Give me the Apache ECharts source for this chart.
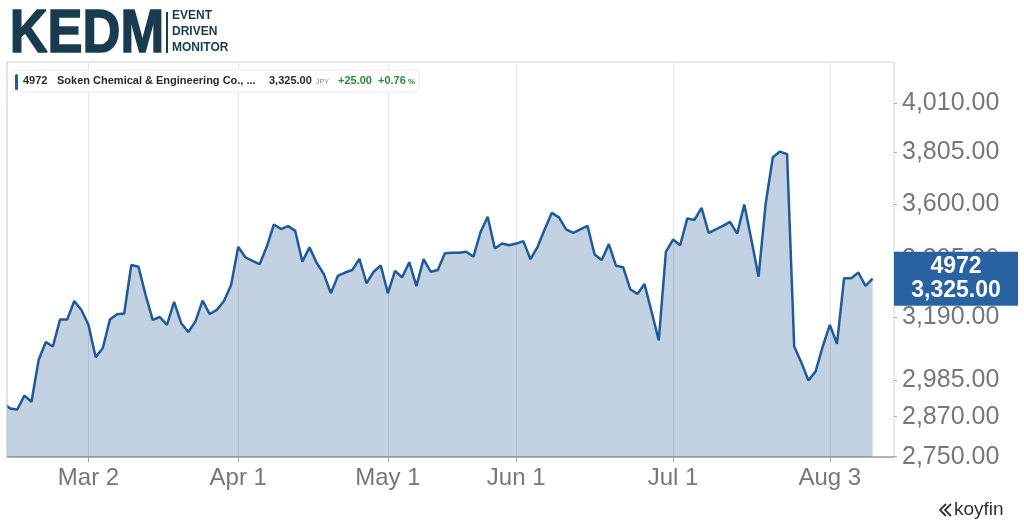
<!DOCTYPE html>
<html>
<head>
<meta charset="utf-8">
<script src="https://cdn.jsdelivr.net/npm/echarts@6/dist/echarts.min.js"></script>
<style>
html,body{margin:0;padding:0;background:#fff;}
#chart{width:1024px;height:529px;}
</style>
</head>
<body>
<div id="chart"></div>
<script>
const DATES = [
'2020-02-12','2020-02-13','2020-02-14','2020-02-17','2020-02-18','2020-02-19','2020-02-20','2020-02-21','2020-02-25','2020-02-26','2020-02-27','2020-02-28',
'2020-03-02','2020-03-03','2020-03-04','2020-03-05','2020-03-06','2020-03-09','2020-03-10','2020-03-11','2020-03-12','2020-03-13','2020-03-16','2020-03-17','2020-03-18','2020-03-19','2020-03-23','2020-03-24','2020-03-25','2020-03-26','2020-03-27','2020-03-30','2020-03-31',
'2020-04-01','2020-04-02','2020-04-03','2020-04-06','2020-04-07','2020-04-08','2020-04-09','2020-04-10','2020-04-13','2020-04-14','2020-04-15','2020-04-16','2020-04-17','2020-04-20','2020-04-21','2020-04-22','2020-04-23','2020-04-24','2020-04-27','2020-04-28','2020-04-30',
'2020-05-01','2020-05-07','2020-05-08','2020-05-11','2020-05-12','2020-05-13','2020-05-14','2020-05-15','2020-05-18','2020-05-19','2020-05-20','2020-05-21','2020-05-22','2020-05-25','2020-05-26','2020-05-27','2020-05-28','2020-05-29',
'2020-06-01','2020-06-02','2020-06-03','2020-06-04','2020-06-05','2020-06-08','2020-06-09','2020-06-10','2020-06-11','2020-06-12','2020-06-15','2020-06-16','2020-06-17','2020-06-18','2020-06-19','2020-06-22','2020-06-23','2020-06-24','2020-06-25','2020-06-26','2020-06-29','2020-06-30',
'2020-07-01','2020-07-02','2020-07-03','2020-07-06','2020-07-07','2020-07-08','2020-07-09','2020-07-10','2020-07-13','2020-07-14','2020-07-15','2020-07-16','2020-07-17','2020-07-20','2020-07-21','2020-07-22','2020-07-23','2020-07-27','2020-07-28','2020-07-29','2020-07-30','2020-07-31',
'2020-08-03','2020-08-04','2020-08-05','2020-08-06','2020-08-07','2020-08-11','2020-08-12'
];
const PRICES = [
2912,2895,2892,2935,2916,3049,3108,3093,3183,3183,3247,3216,
3165,3058,3088,3183,3201,3204,3374,3368,3268,3182,3192,3165,3244,3171,3141,3177,3248,3202,3216,3247,3303,
3440,3402,3389,3377,3440,3523,3506,3517,3499,3386,3438,3382,3342,3274,3336,3347,3356,3396,3309,3350,3372,
3274,3353,3330,3384,3299,3395,3350,3356,3417,3418,3418,3422,3404,3495,3552,3434,3452,3446,
3452,3461,3395,3440,3505,3567,3550,3505,3492,3505,3518,3412,3392,3450,3371,3366,3288,3271,3306,3209,3113,3422,
3467,3446,3546,3540,3586,3492,3505,3518,3533,3489,3599,3465,3332,3603,3785,3808,3798,3093,3041,2983,3012,3093,
3165,3102,3327,3327,3347,3300,3325
];
const PAD_SLOTS = ['', '', ''];
const X_TICKS = ['2020-03-02','2020-04-01','2020-05-01','2020-06-01','2020-07-01','2020-08-03'];
const Y_TICKS = [2750, 2870, 2985, 3190, 3395, 3600, 3805, 4010];
const LAST = 3325;
const TICKER = '4972';
const NAME = 'Soken Chemical & Engineering Co., ...';
const CHANGE = '+25.00';
const CHANGE_PCT = '+0.76';

const MONTHS = ['Jan','Feb','Mar','Apr','May','Jun','Jul','Aug','Sep','Oct','Nov','Dec'];
const FONT = '"Liberation Sans", Arial, sans-serif';
const isTick = (i, v) => X_TICKS.indexOf(v) >= 0;
const fmtDate = v => { if (!v) return ''; const p = v.split('-'); return MONTHS[+p[1]-1] + ' ' + (+p[2]); };
const fmtNum = v => Number(v).toLocaleString('en-US', {minimumFractionDigits: 2, maximumFractionDigits: 2});

const chart = echarts.init(document.getElementById('chart'), null, {renderer: 'canvas'});
const navy = '#183b50';
const Z = 100;
chart.setOption({
  animation: false,
  grid: {left: 3, right: 130, top: 62, bottom: 72, show: true, borderColor: '#d2d2d2', borderWidth: 1, backgroundColor: 'transparent'},
  xAxis: {
    type: 'category', boundaryGap: false, data: DATES.concat(PAD_SLOTS),
    axisLine: {lineStyle: {color: '#a3a3a3', width: 1.5}},
    axisTick: {interval: isTick, length: 5, lineStyle: {color: '#a3a3a3'}},
    axisLabel: {interval: isTick, formatter: fmtDate, color: '#777', fontSize: 24, fontFamily: FONT, margin: 9},
    splitLine: {show: true, interval: isTick, lineStyle: {color: '#e6e6e6', width: 1}}
  },
  yAxis: {
    type: 'log', logBase: 10, position: 'right', min: 2749, max: 4190,
    axisLine: {show: false},
    axisTick: {show: true, customValues: Y_TICKS, length: 3, lineStyle: {color: '#aaa'}},
    axisLabel: {customValues: Y_TICKS, formatter: v => fmtNum(Math.round(v)), color: '#777', fontSize: 25, fontFamily: FONT, margin: 8},
    splitLine: {show: false}
  },
  series: [{
    type: 'line', data: PRICES, showSymbol: false, symbol: 'none',
    lineStyle: {color: '#1f5a99', width: 2.5},
    areaStyle: {color: '#1f5a99', opacity: 0.27},
    markLine: {
      silent: true, symbol: 'none', animation: false,
      lineStyle: {color: 'rgba(0,0,0,0)', width: 1, type: 'solid'},
      data: [{yAxis: LAST}],
      label: {
        show: true, position: 'end', distance: 0, opacity: 1,
        formatter: '{a|' + TICKER + '}\n{a|' + fmtNum(LAST) + '}',
        backgroundColor: '#2862a0', padding: [3, 17, 3, 17],
        rich: {a: {color: '#fff', fontSize: 23, fontWeight: 'bold', fontFamily: FONT, lineHeight: 24, width: 90, align: 'center'}}
      }
    }
  }],
  graphic: [
    {type: 'rect', z: Z, shape: {x: 0, y: 55, width: 6.5, height: 410}, style: {fill: '#fff'}},
    {type: 'line', z: Z + 1, shape: {x1: 7, y1: 62, x2: 7, y2: 457}, style: {stroke: '#c8c8c8', lineWidth: 1}},
    {type: 'text', z: Z, left: 9, top: 4, scaleX: 0.86, style: {text: 'KEDM', fill: navy, stroke: navy, lineWidth: 1.6, font: 'bold 61px ' + FONT}},
    {type: 'rect', z: Z, shape: {x: 166, y: 12, width: 2, height: 41}, style: {fill: navy}},
    {type: 'text', z: Z, x: 172, y: 10, style: {text: 'EVENT', fill: navy, font: 'bold 12px ' + FONT}},
    {type: 'text', z: Z, x: 172, y: 26, style: {text: 'DRIVEN', fill: navy, font: 'bold 12px ' + FONT}},
    {type: 'text', z: Z, x: 172, y: 42, style: {text: 'MONITOR', fill: navy, font: 'bold 12px ' + FONT}},
    {type: 'rect', z: Z, shape: {x: 13, y: 70, width: 406, height: 22, r: 3}, style: {fill: '#fff', stroke: '#ececec', lineWidth: 1}},
    {type: 'rect', z: Z + 1, shape: {x: 15, y: 74, width: 3, height: 16, r: 1.5}, style: {fill: '#1f5a99'}},
    {type: 'text', z: Z + 1, x: 23, y: 81, style: {text: TICKER, fill: '#2a2a2a', font: 'bold 11px ' + FONT, verticalAlign: 'middle'}},
    {type: 'text', z: Z + 1, x: 57, y: 81, style: {text: NAME, fill: '#2a2a2a', font: 'bold 11px ' + FONT, verticalAlign: 'middle'}},
    {type: 'text', z: Z + 1, x: 269, y: 81, style: {text: fmtNum(LAST), fill: '#2a2a2a', font: 'bold 11px ' + FONT, verticalAlign: 'middle'}},
    {type: 'text', z: Z + 1, x: 316, y: 82, style: {text: 'JPY', fill: '#888', font: '7px ' + FONT, verticalAlign: 'middle'}},
    {type: 'text', z: Z + 1, x: 338, y: 81, style: {text: CHANGE, fill: '#2a8a3a', font: 'bold 11px ' + FONT, verticalAlign: 'middle'}},
    {type: 'text', z: Z + 1, x: 378, y: 81, style: {text: CHANGE_PCT, fill: '#2a8a3a', font: 'bold 11px ' + FONT, verticalAlign: 'middle'}},
    {type: 'text', z: Z + 1, x: 408, y: 82, style: {text: '%', fill: '#2a8a3a', font: 'bold 8px ' + FONT, verticalAlign: 'middle'}},
    {type: 'polyline', z: Z, shape: {points: [[946, 504], [940, 510], [946, 516]]}, style: {stroke: '#333', lineWidth: 1.8, fill: null}},
    {type: 'polyline', z: Z, shape: {points: [[951, 504], [945, 510], [951, 516]]}, style: {stroke: '#333', lineWidth: 1.8, fill: null}},
    {type: 'text', z: Z, x: 954, y: 510, style: {text: 'koyfin', fill: '#333', font: '19px ' + FONT, verticalAlign: 'middle'}}
  ]
});
</script>
</body>
</html>
